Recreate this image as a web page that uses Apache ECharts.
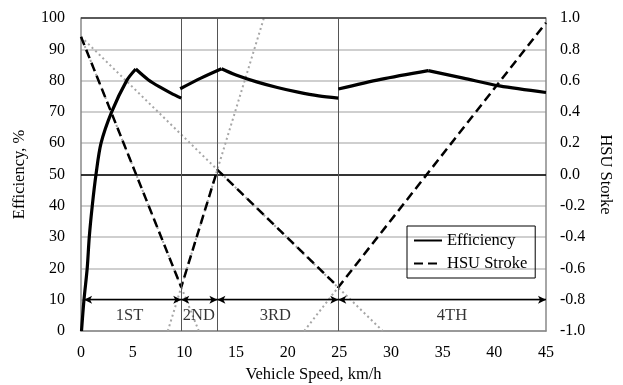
<!DOCTYPE html>
<html>
<head>
<meta charset="utf-8">
<script src="https://cdn.jsdelivr.net/npm/echarts@6/dist/echarts.min.js"></script>
<style>html,body{margin:0;padding:0;background:#fff}#c{width:623px;height:385px}</style>
</head>
<body>
<div id="c"></div>
<script>
// Efficiency (%) vs vehicle speed (km/h), one array per curve piece
var eff1Rise = [[0.05,0],[0.29,10],[0.6,20],[0.8,30],[1.09,40],[1.45,50],[1.94,60],[2.97,70],[4.42,80],[5.3,83.7]];
var eff1Fall = [[5.3,83.7],[6.5,80.3],[7.7,77.8],[8.7,76.0],[9.7,74.4]];
var eff2 = [[9.6,77.4],[11.6,80.8],[13.6,83.8]];
var eff3 = [[13.6,83.8],[15,81.8],[17,79.6],[19,77.8],[21,76.3],[23,75.1],[24.9,74.4]];
var eff4Rise = [[24.9,77.3],[29,80.4],[33.6,83.2]];
var eff4Fall = [[33.6,83.2],[37,80.8],[40.5,78.3],[45,76.2]];
// HSU stroke (right axis)
var hsu = [[0,0.88],[9.7,-0.72],[13.2,0.03],[24.9,-0.72],[45,0.97]];
// dotted extension lines (right axis)
var ext1 = [[0,0.88],[29.2,-1]];
var ext2 = [[8.4,-1],[17.7,1]];
var ext3 = [[0,0.88],[11.4,-1]];
var ext4 = [[21.6,-1],[24.9,-0.72]];
// gear shift speeds and gear ranges
var shifts = [9.7, 13.2, 24.9];
var gearStart = [0.3, 9.7, 13.2, 24.9];
var gearEnd = [9.7, 13.2, 24.9, 45];
var gearNames = ['1ST','2ND','3RD','4TH'];
var gearLabelX = [4.7, 11.4, 18.8, 35.9];
var arrowY = 10, gearLabelY = 5;
var xTicks = {min:0, max:45, interval:5};
var yTicks = {min:0, max:100, interval:10};
var y2Ticks = {min:-1, max:1, interval:0.2};

var font = 'Liberation Serif';
var chart = echarts.init(document.getElementById('c'), null, {renderer:'canvas'});
function dotted(d){
  return {type:'line', yAxisIndex:1, data:d, symbol:'none', silent:true,
    lineStyle:{color:'#a6a6a6', width:2, type:[2,3]}, z:2};
}
function effSeries(d, smooth){
  return {type:'line', name:'Efficiency', yAxisIndex:0, data:d, symbol:'none', z:5,
    smooth:smooth, color:'#000', lineStyle:{color:'#000', width:3.2}};
}
var arrows = gearStart.map(function(s,i){ return [{coord:[s,arrowY]},{coord:[gearEnd[i],arrowY]}]; });
var labelsData = gearNames.map(function(n,i){ return {name:n, value:[gearLabelX[i], gearLabelY]}; });

chart.setOption({
  animation:false,
  grid:{left:81, right:77, top:18, bottom:54, containLabel:false, outerBoundsMode:'none'},
  legend:{
    data:['Efficiency','HSU Stroke'], orient:'vertical', left:407, top:226,
    borderColor:'#000', borderWidth:1, padding:[6,8,6,6], itemGap:6,
    itemWidth:28, itemHeight:14, itemStyle:{opacity:0},
    textStyle:{fontFamily:font, fontSize:16.5, color:'#000'}
  },
  xAxis:{type:'value', min:xTicks.min, max:xTicks.max, interval:xTicks.interval,
    name:'Vehicle Speed, km/h', nameLocation:'middle', nameGap:35,
    nameTextStyle:{fontFamily:font, fontSize:16.5, color:'#000'},
    axisLine:{lineStyle:{color:'#888', width:1.5}}, axisTick:{show:false},
    axisLabel:{fontFamily:font, fontSize:16, color:'#000', margin:14},
    splitLine:{show:false}},
  yAxis:[
    {type:'value', min:yTicks.min, max:yTicks.max, interval:yTicks.interval,
     name:'Efficiency, %', nameLocation:'middle', nameGap:53,
     nameTextStyle:{fontFamily:font, fontSize:16.5, color:'#000'},
     axisLine:{show:true, lineStyle:{color:'#888', width:1.5}}, axisTick:{show:false},
     axisLabel:{fontFamily:font, fontSize:16, color:'#000', margin:16},
     splitLine:{show:true, lineStyle:{color:'#bfbfbf', width:1.5}}},
    {type:'value', min:y2Ticks.min, max:y2Ticks.max, interval:y2Ticks.interval,
     name:'HSU Storke', nameLocation:'middle', nameGap:51, nameRotate:-90,
     nameTextStyle:{fontFamily:font, fontSize:16.5, color:'#000'},
     axisLine:{show:true, lineStyle:{color:'#888', width:1.5}}, axisTick:{show:false},
     axisLabel:{fontFamily:font, fontSize:16, color:'#000', margin:14,
       formatter:function(v){ return Math.abs(v)<1e-9 ? '0.0' : v.toFixed(1); }},
     splitLine:{show:false}}
  ],
  series:[
    dotted(ext1), dotted(ext2), dotted(ext3), dotted(ext4),
    {type:'line', name:'helper', yAxisIndex:0, data:[], symbol:'none', silent:true,
     markLine:{silent:true, symbol:['none','none'], label:{show:false},
       data:[
         {yAxis:50, lineStyle:{color:'#000', width:1.5, type:'solid'}},
         {yAxis:100, lineStyle:{color:'#333', width:1.5, type:'solid'}}
       ].concat(shifts.map(function(s){ return {xAxis:s, lineStyle:{color:'#555', width:1, type:'solid'}}; }))
     }},
    {type:'line', name:'arrows', yAxisIndex:0, data:[], symbol:'none', silent:true,
     markLine:{silent:true, symbol:['arrow','arrow'], symbolSize:[6,8], label:{show:false},
       lineStyle:{color:'#000', width:1.3, type:'solid'}, data:arrows}},
    {type:'scatter', name:'gears', yAxisIndex:0, data:labelsData, symbolSize:0, silent:true,
     label:{show:true, position:'inside', formatter:'{b}', fontFamily:font, fontSize:16.5, color:'#000'}},
    {type:'line', name:'HSU Stroke', yAxisIndex:1, data:hsu, symbol:'none', z:4, color:'#000',
     lineStyle:{color:'#000', width:2.5, type:[9,5]}},
    effSeries(eff1Rise, 0.3), effSeries(eff1Fall, 0.3), effSeries(eff2, 0.3),
    effSeries(eff3, 0.3), effSeries(eff4Rise, 0.3), effSeries(eff4Fall, 0.3)
  ]
});
</script>
</body>
</html>
